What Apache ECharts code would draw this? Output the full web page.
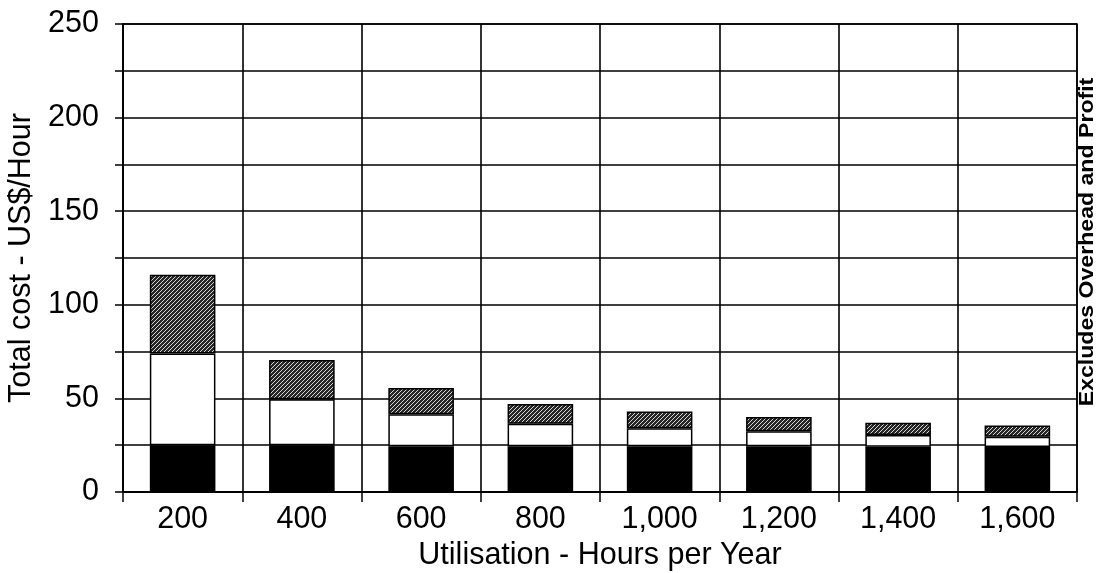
<!DOCTYPE html>
<html>
<head>
<meta charset="utf-8">
<script src="https://cdn.jsdelivr.net/npm/echarts@6/dist/echarts.min.js"></script>
<style>
  html, body { margin: 0; padding: 0; background: #fff; }
  #chart { width: 1103px; height: 573px; }
</style>
</head>
<body>
<div id="chart"></div>
<script>
// ---- data ----
const categories = ['200', '400', '600', '800', '1,000', '1,200', '1,400', '1,600'];
const blackSegment  = [25, 25, 24.5, 24.5, 24.5, 24.5, 24.2, 24];
const whiteSegment  = [49, 24.5, 17, 12, 9.5, 8, 6.3, 5.5];
const hatchSegment  = [42, 21, 14, 10.5, 9, 7.5, 6.5, 6];
const yTicks = [0, 50, 100, 150, 200, 250];

// ---- hatch pattern ----
function makeHatch() {
  const n = 4;
  const c = document.createElement('canvas');
  c.width = n; c.height = n;
  const ctx = c.getContext('2d');
  const img = ctx.createImageData(n, n);
  for (let y = 0; y < n; y++) {
    for (let x = 0; x < n; x++) {
      const i = (y * n + x) * 4;
      const light = ((x + y) % n) === n - 1;
      const v = light ? 215 : 38;
      img.data[i] = v; img.data[i + 1] = v; img.data[i + 2] = v; img.data[i + 3] = 255;
    }
  }
  ctx.putImageData(img, 0, 0);
  return c;
}

const FONT = '"Liberation Sans", Arial, sans-serif';
const FS = 30.5;
const chart = echarts.init(document.getElementById('chart'), null, { renderer: 'canvas' });

const barBorder = { borderColor: '#000', borderWidth: 1.5 };

chart.setOption({
  animation: false,
  backgroundColor: '#fff',
  grid: {
    left: 123, right: 26, top: 24, bottom: 81,
    containLabel: false,
    outerBoundsMode: 'none',
    show: true, borderColor: '#000', borderWidth: 1.5, backgroundColor: 'transparent'
  },
  xAxis: {
    type: 'category',
    data: categories,
    boundaryGap: true,
    name: 'Utilisation - Hours per Year',
    nameLocation: 'middle',
    nameGap: 42,
    nameTextStyle: { fontSize: FS, color: '#000', fontFamily: FONT },
    axisLine: { show: true, lineStyle: { color: '#000', width: 2 } },
    axisTick: { show: true, alignWithLabel: false, length: 10, lineStyle: { color: '#000', width: 1.5 } },
    axisLabel: { fontSize: FS, color: '#000', fontFamily: FONT, margin: 12, interval: 0 },
    splitLine: { show: true, lineStyle: { color: '#000', width: 1.6 } }
  },
  yAxis: {
    type: 'value',
    min: 0, max: 250, interval: 25,
    name: 'Total cost - US$/Hour',
    nameLocation: 'middle',
    nameGap: 82,
    nameTextStyle: { fontSize: FS, color: '#000', fontFamily: FONT },
    axisLine: { show: true, lineStyle: { color: '#000', width: 2 } },
    axisTick: { show: true, length: 8, lineStyle: { color: '#000', width: 1.5 } },
    axisLabel: {
      fontSize: FS, color: '#000', fontFamily: FONT, margin: 24,
      formatter: v => (yTicks.indexOf(v) >= 0 ? String(v) : '')
    },
    splitLine: { show: true, lineStyle: { color: '#000', width: 1.5 } }
  },
  series: [
    {
      name: 'Base', type: 'bar', stack: 'cost', barWidth: '55%',
      data: blackSegment,
      itemStyle: Object.assign({ color: '#000' }, barBorder)
    },
    {
      name: 'Middle', type: 'bar', stack: 'cost', barWidth: '55%',
      data: whiteSegment,
      itemStyle: Object.assign({ color: '#fff' }, barBorder)
    },
    {
      name: 'Top', type: 'bar', stack: 'cost', barWidth: '55%',
      data: hatchSegment,
      itemStyle: Object.assign({ color: { image: makeHatch(), repeat: 'repeat' } }, barBorder)
    }
  ],
  graphic: [
    {
      type: 'text',
      x: 1087, y: 242,
      rotation: Math.PI / 2,
      scaleX: 1.1,
      style: {
        text: 'Excludes Overhead and Profit',
        fontSize: 21, fontWeight: 'bold', fontFamily: FONT,
        fill: '#000', align: 'center', verticalAlign: 'middle'
      }
    }
  ]
});
</script>
</body>
</html>
